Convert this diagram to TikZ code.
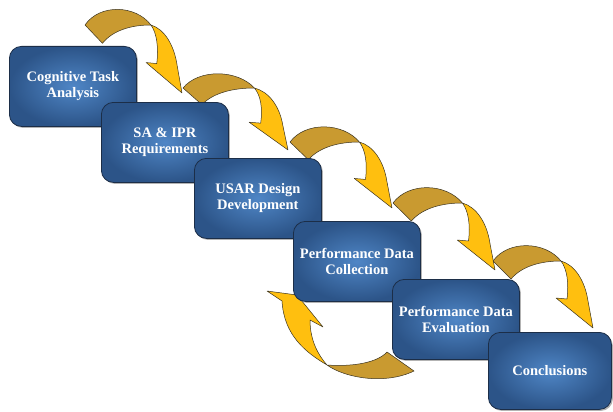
\documentclass[tikz,border=0pt]{standalone}
\usepackage{fontspec}
\setmainfont{Liberation Serif}
\usetikzlibrary{shadows}
\definecolor{boxin}{HTML}{4F86C6}
\definecolor{boxout}{HTML}{2C5488}
\definecolor{boxline}{HTML}{1C2E48}
\definecolor{arrdark}{HTML}{C99A30}
\definecolor{arryel}{HTML}{FFBF0F}
\definecolor{arrline}{HTML}{3A3320}
\newcommand\goldarrow[4]{%
  \begin{scope}[shift={(#1,#2)}, xscale=#3, yscale=#4]
    \path[backpart] (0,0) .. controls (15,-21) and (52,-20) .. (68,0)
      .. controls (48,0) and (29,5) .. (18,18) -- cycle;
    \path[frontpart] (68,0) .. controls (82,4) and (92,20) .. (95,40)
      -- (100,67) -- (63,37) -- (74,38) .. controls (76,22) and (74,8) .. (68,0) -- cycle;
  \end{scope}}
\begin{document}
\begin{tikzpicture}[x=1pt,y=-1pt,
  stepbox/.style={draw=boxline, line width=0.8pt, rounded corners=12pt,
    inner color=boxin, outer color=boxout,
    minimum width=127pt, minimum height=80pt, anchor=north west,
    align=center, text=white, font=\bfseries\fontsize{14.5}{16}\selectfont,
    drop shadow={shadow xshift=1.5pt, shadow yshift=-1.5pt, opacity=0.6}},
  backpart/.style={fill=arrdark, draw=arrline, line width=0.5pt, line join=round},
  frontpart/.style={fill=arryel, draw=arrline, line width=0.5pt, line join=round},
]
\useasboundingbox (0,0) rectangle (613,412);
% down arrows
\goldarrow{85}{25}{0.97}{1.015}
\goldarrow{183}{88}{1.05}{0.925}
\goldarrow{290}{142}{1.02}{0.985}
\goldarrow{393}{203}{1.02}{1.0}
\goldarrow{493}{261}{1.0}{1.0}
% loop-back arrow
\path[backpart] (387,352) .. controls (378,362) and (355,367) .. (327,365)
   .. controls (345,378) and (385,385) .. (414,371) -- cycle;
\path[frontpart] (327,365) .. controls (305,352) and (284,335) .. (282,301)
   -- (267,291) -- (297,295) -- (323,327) -- (310,320)
   .. controls (310,340) and (318,355) .. (327,365) -- cycle;
% boxes
\node[stepbox] (b1) at (9,46) {Cognitive Task\\Analysis};
\node[stepbox] (b2) at (101,102) {SA \& IPR\\Requirements};
\node[stepbox] (b3) at (194,158) {USAR Design\\Development};
\node[stepbox] (b4) at (293,221) {Performance Data\\Collection};
\node[stepbox] (b5) at (392,279) {Performance Data\\Evaluation};
\node[stepbox, minimum width=123pt, minimum height=77pt] (b6) at (488,332) {Conclusions};
\end{tikzpicture}
\end{document}
